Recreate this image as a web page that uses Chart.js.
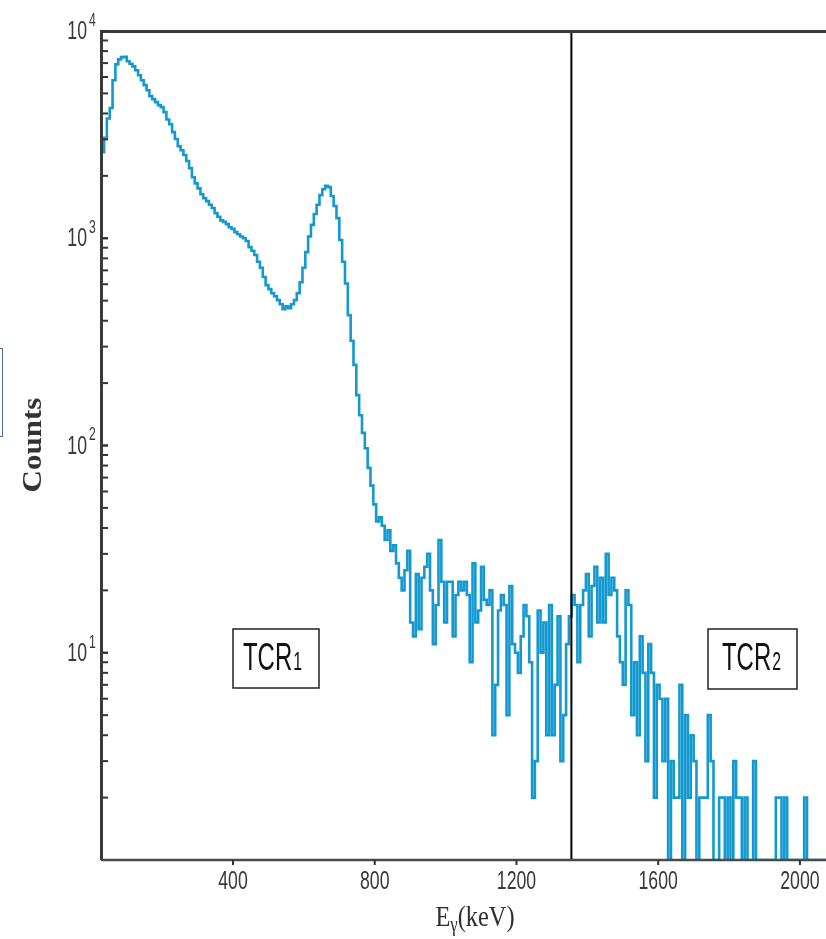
<!DOCTYPE html>
<html>
<head>
<meta charset="utf-8">
<script src="https://cdn.jsdelivr.net/npm/chart.js@4.4.1/dist/chart.umd.min.js"></script>
<style>
  html, body { margin: 0; padding: 0; background: #fff; }
  #wrap { position: relative; width: 826px; height: 939px; overflow: hidden; }
  #spectrum { display: block; }
  .cut-box { position: absolute; left: -60px; top: 348px; width: 61px; height: 87px; border: 1.5px solid #4d6b96; }
</style>
</head>
<body>
<div id="wrap">
  <canvas id="spectrum" width="826" height="939"></canvas>
  <div class="cut-box"></div>
</div>
<script>
/* gamma spectrum, log counts vs energy */

const BIN_START = 20;   // keV, left edge of first bin
const BIN_WIDTH = 8;    // keV
const COUNTS = [
  0,
  2600, 3050, 3780, 4250, 5790, 6900, 7300, 7480, 7500, 7150,
  6950, 6750, 6470, 6120, 5790, 5480, 5180, 4850, 4690, 4540,
  4390, 4290, 4060, 3740, 3550, 3250, 3010, 2780, 2660, 2520,
  2360, 2180, 1970, 1840, 1740, 1630, 1560, 1510, 1450, 1400,
  1320, 1270, 1220, 1200, 1170, 1130, 1110, 1070, 1045, 1020,
  1000, 970, 906, 870, 830, 770, 720, 650, 594, 568,
  543, 525, 503, 480, 455, 470, 460, 480, 503, 543,
  613, 720, 857, 1020, 1160, 1310, 1450, 1615, 1725, 1790,
  1765, 1600, 1430, 1250, 980, 770, 605, 425, 320, 245,
  175, 140, 115, 97, 78, 64, 52, 43, 45, 41,
  35, 39, 31, 33, 27, 23, 20, 25, 31, 14,
  12, 24, 13, 23, 26, 30, 20, 11, 17, 35,
  22, 14, 22, 22, 12, 19, 22, 20, 22, 19,
  9, 27, 14, 16, 26, 18, 17, 20, 4, 7,
  16, 19, 17, 5, 21, 11, 10, 8, 12, 17,
  15, 9, 2, 3, 16, 10, 14, 4, 17, 4,
  7, 15, 3, 5, 11, 15, 19, 17, 9, 17,
  20, 24, 12, 21, 26, 14, 23, 14, 30, 19,
  23, 20, 12, 9, 7, 20, 17, 5, 9, 4,
  12, 8, 3, 11, 8, 2, 7, 6, 3, 6,
  0, 3, 2, 2, 7, 0, 5, 2, 4, 3,
  0, 2, 2, 2, 5, 3, 0, 1, 2, 2,
  1, 2, 0, 3, 2, 2, 0, 2, 1, 0,
  3, 1, 1, 0, 1, 0, 1, 0, 2, 2,
  1, 2, 0, 1, 0, 1, 1, 0, 2, 1,
  0, 1, 1, 0, 1, 1
];

const X_TICKS = [400, 800, 1200, 1600, 2000];
const Y_TICKS = [10, 100, 1000, 10000];
const BOUNDARY_KEV = 1355;
const REGIONS = [
  { name: 'TCR', sub: '1' },
  { name: 'TCR', sub: '2' }
];

const X_MIN = 27.4;
const X_MAX = 2073.6;
const Y_MIN = 1;
const Y_MAX = 10000;
const ZERO_FLOOR = 0.5;   // empty bins drawn below the log axis floor

const LINE_COLOR = '#1399cf';
const SANS = '"Liberation Sans", Arial, sans-serif';
const SERIF = '"Liberation Serif", "Times New Roman", serif';

// histogram points at bin left edges, plus the closing right edge
const points = COUNTS.map((c, i) => ({ x: BIN_START + i * BIN_WIDTH, y: c > 0 ? c : ZERO_FLOOR }));
points.push({ x: BIN_START + COUNTS.length * BIN_WIDTH, y: points[points.length - 1].y });

function text(ctx, str, x, y, font, sx, align) {
  ctx.save();
  ctx.font = font;
  const w = ctx.measureText(str).width * sx;
  const x0 = align === 'center' ? x - w / 2 : align === 'right' ? x - w : x;
  ctx.translate(x0, y);
  ctx.scale(sx, 1);
  ctx.textAlign = 'left';
  ctx.fillText(str, 0, 0);
  ctx.restore();
  return w;
}

function textWidth(ctx, str, font, sx) {
  ctx.save();
  ctx.font = font;
  const w = ctx.measureText(str).width * sx;
  ctx.restore();
  return w;
}

function seg(ctx, x1, y1, x2, y2) {
  ctx.beginPath();
  ctx.moveTo(x1, y1);
  ctx.lineTo(x2, y2);
  ctx.stroke();
}

const framePlugin = {
  id: 'frame',
  afterDatasetsDraw(chart) {
    const { ctx, chartArea: a, scales: { x, y } } = chart;
    ctx.save();

    // boundary between the two regions
    const bx = x.getPixelForValue(BOUNDARY_KEV);
    ctx.strokeStyle = '#000';
    ctx.lineWidth = 2;
    seg(ctx, bx, a.top, bx, a.bottom);

    // axes frame
    ctx.strokeStyle = '#3a3a3a';
    ctx.lineWidth = 3;
    ctx.beginPath();
    ctx.moveTo(a.left + 0.5, a.bottom);
    ctx.lineTo(a.left + 0.5, a.top + 0.5);
    ctx.lineTo(a.right, a.top + 0.5);
    ctx.stroke();
    ctx.strokeStyle = '#4a4a4a';
    ctx.lineWidth = 2.5;
    seg(ctx, a.left, a.bottom, a.right, a.bottom);

    // y minor/major ticks pointing inward
    ctx.strokeStyle = '#333';
    ctx.lineWidth = 2;
    for (let d = Y_MIN; d < Y_MAX; d *= 10) {
      for (let m = 1; m <= 10; m++) {
        const v = d * m;
        if (v <= Y_MIN || v > Y_MAX) continue;
        const py = y.getPixelForValue(v);
        seg(ctx, a.left + 2, py, a.left + 7, py);
      }
    }

    // x ticks
    X_TICKS.forEach(v => {
      const px = x.getPixelForValue(v);
      seg(ctx, px, a.bottom, px, a.bottom + 5);
    });

    // tick labels
    ctx.fillStyle = '#383838';
    ctx.textBaseline = 'middle';
    X_TICKS.forEach(v => {
      text(ctx, String(v), x.getPixelForValue(v), a.bottom + 22, '26px ' + SANS, 0.68, 'center');
    });
    Y_TICKS.forEach(v => {
      const py = y.getPixelForValue(v);
      text(ctx, '10', a.left - 14, py + 1, '26px ' + SANS, 0.68, 'right');
      text(ctx, String(Math.round(Math.log10(v))), a.left - 12, py - 10, '18px ' + SANS, 0.68, 'left');
    });

    // axis titles
    ctx.fillStyle = '#2e2e2e';
    ctx.textBaseline = 'alphabetic';
    const fBig = '29px ' + SERIF, fSub = '20px ' + SERIF, sT = 0.84;
    const total = textWidth(ctx, 'E', fBig, sT) + textWidth(ctx, 'γ', fSub, sT) + textWidth(ctx, '(keV)', fBig, sT);
    let tx = 475 - total / 2;
    const tb = a.bottom + 66;
    tx += text(ctx, 'E', tx, tb, fBig, sT, 'left');
    tx += text(ctx, 'γ', tx, tb + 5, fSub, sT, 'left');
    text(ctx, '(keV)', tx, tb, fBig, sT, 'left');

    ctx.save();
    ctx.translate(34, 445);
    ctx.scale(0.85, 1);
    ctx.rotate(-Math.PI / 2);
    ctx.font = 'bold 31px ' + SERIF;
    ctx.textAlign = 'center';
    ctx.textBaseline = 'middle';
    ctx.fillStyle = '#333';
    ctx.fillText('Counts', 0, 0);
    ctx.restore();

    // region labels in boxes
    const boxes = [
      { left: 233, top: 629, w: 86, h: 59, tx: 243 },
      { left: 708, top: 629, w: 89, h: 60, tx: 722 }
    ];
    REGIONS.forEach((r, i) => {
      const b = boxes[i];
      ctx.strokeStyle = '#222';
      ctx.lineWidth = 1.5;
      ctx.strokeRect(b.left, b.top, b.w, b.h);
      ctx.fillStyle = '#111';
      const base = b.top + 41;
      const w = text(ctx, r.name, b.tx, base, '38px ' + SANS, 0.63, 'left');
      text(ctx, r.sub, b.tx + w + 1, base, '25px ' + SANS, 0.63, 'left');
    });

    ctx.restore();
  }
};

new Chart(document.getElementById('spectrum'), {
  type: 'line',
  data: {
    datasets: [{
      data: points,
      stepped: true,
      borderColor: LINE_COLOR,
      borderWidth: 2.6,
      pointRadius: 0,
      fill: false,
      tension: 0
    }]
  },
  options: {
    responsive: false,
    animation: false,
    events: [],
    layout: { padding: { left: 0, right: 0, top: 31, bottom: 0 } },
    plugins: { legend: { display: false }, tooltip: { enabled: false } },
    scales: {
      x: {
        type: 'linear', min: X_MIN, max: X_MAX,
        grid: { display: false }, border: { display: false },
        ticks: { display: false },
        afterFit(s) { s.height = 79; }
      },
      y: {
        type: 'logarithmic', min: Y_MIN, max: Y_MAX,
        grid: { display: false }, border: { display: false },
        ticks: { display: false },
        afterFit(s) { s.width = 101; }
      }
    }
  },
  plugins: [framePlugin]
});
</script>
</body>
</html>
